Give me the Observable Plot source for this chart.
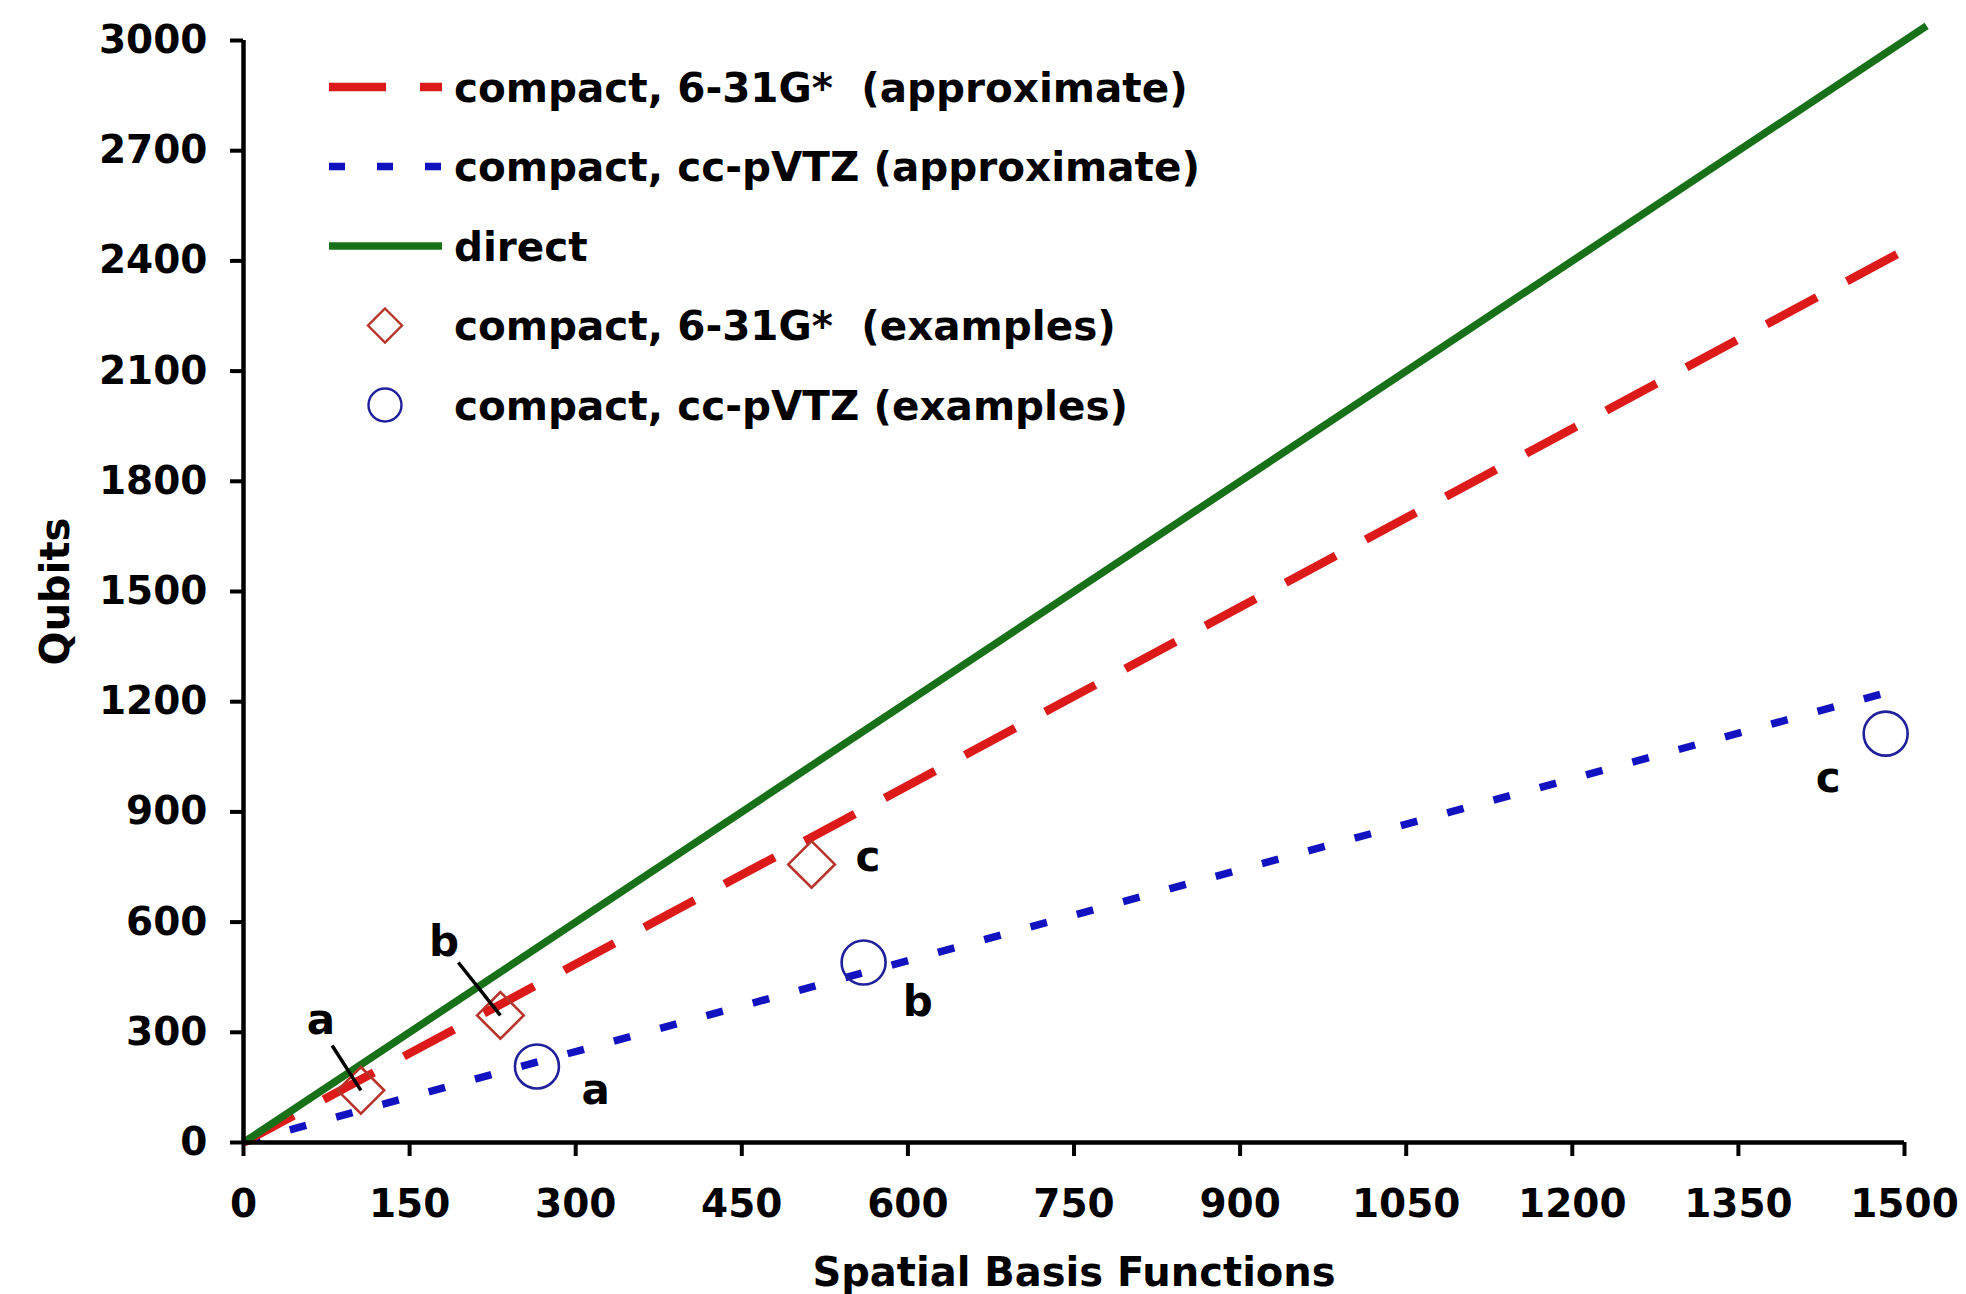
<!DOCTYPE html>
<html>
<head>
<meta charset="utf-8">
<script src="https://cdn.jsdelivr.net/npm/d3@7"></script>
<script src="https://cdn.jsdelivr.net/npm/@observablehq/plot@0.6"></script>
<style>
  body { margin: 0; background: #fff; }
  #chart svg { font-family: "DejaVu Sans", Verdana, sans-serif; font-weight: bold; }
</style>
</head>
<body>
<div id="chart"></div>
<script>
// ---- data ----
const xTicks = [0, 150, 300, 450, 600, 750, 900, 1050, 1200, 1350, 1500];
const yTicks = [0, 300, 600, 900, 1200, 1500, 1800, 2100, 2400, 2700, 3000];

// approximate / direct lines (spatial basis functions -> qubits)
const directN = [0, 1520];
const directQ = [0, 3040];
const approx631N = [0, 1503];
const approx631Q = [0, 2434];
const approxTZN = [0, 1490];
const approxTZQ = [0, 1230];

// examples
const ex631N = [106, 232, 513];
const ex631Q = [142, 346, 757];
const exTZN = [265, 560, 1483];
const exTZQ = [207, 490, 1113];
const exLabels = ["a", "b", "c"];

// label positions (data units)
const lab631N = [70, 181, 564];
const lab631Q = [332, 544, 776];
const labTZN = [318, 609, 1431];
const labTZQ = [142, 381, 991];
// leader lines for 6-31G* a, b
const leaderFromN = [80, 194];
const leaderFromQ = [264, 490];
const leaderToN = [106, 232];
const leaderToQ = [142, 346];

const legendItems = [
  "compact, 6-31G*  (approximate)",
  "compact, cc-pVTZ (approximate)",
  "direct",
  "compact, 6-31G*  (examples)",
  "compact, cc-pVTZ (examples)"
];

// ---- styles ----
const RED = "#dc1a1a", RED_MK = "#b8342a", BLUE = "#1212c0", BLUE_MK = "#20209a", GREEN = "#187018";
const FS = 39;

// ---- build tables ----
const directData = directN.map((n, i) => ({n, q: directQ[i]}));
const a631Data = approx631N.map((n, i) => ({n, q: approx631Q[i]}));
const aTZData = approxTZN.map((n, i) => ({n, q: approxTZQ[i]}));
const e631 = ex631N.map((n, i) => ({n, q: ex631Q[i], l: exLabels[i], ln: lab631N[i], lq: lab631Q[i]}));
const eTZ = exTZN.map((n, i) => ({n, q: exTZQ[i], l: exLabels[i], ln: labTZN[i], lq: labTZQ[i]}));
const leaders = leaderFromN.map((n, i) => ({n1: n, q1: leaderFromQ[i], n2: leaderToN[i], q2: leaderToQ[i]}));

function legendMark() {
  const g = d3.create("svg:g");
  const y0 = 87, gap = 79.5, xl1 = 329, xl2 = 442, xm = 385, xt = 454;
  const kinds = [
    {type: "line", color: RED, dash: "57,34", w: 8.5},
    {type: "line", color: BLUE, dash: "16,32", w: 7.5},
    {type: "line", color: GREEN, dash: null, w: 7.5},
    {type: "diamond", color: RED_MK},
    {type: "circle", color: BLUE_MK}
  ];
  legendItems.forEach((t, i) => {
    const y = y0 + i * gap, k = kinds[i];
    if (k.type === "line") {
      const ln = g.append("line").attr("x1", xl1).attr("x2", xl2).attr("y1", y).attr("y2", y)
        .attr("stroke", k.color).attr("stroke-width", k.w);
      if (k.dash) ln.attr("stroke-dasharray", k.dash);
    } else if (k.type === "diamond") {
      const r = 17;
      g.append("path").attr("d", `M${xm},${y - r}L${xm + r},${y}L${xm},${y + r}L${xm - r},${y}Z`)
        .attr("fill", "none").attr("stroke", k.color).attr("stroke-width", 2.4);
    } else {
      g.append("circle").attr("cx", xm).attr("cy", y).attr("r", 16.5)
        .attr("fill", "none").attr("stroke", k.color).attr("stroke-width", 2.4);
    }
    g.append("text").attr("x", xt).attr("y", y).attr("dy", "0.36em")
      .attr("text-anchor", "start")
      .attr("font-size", 40.5).attr("font-weight", "bold").attr("fill", "#000")
      .style("white-space", "pre").text(t);
  });
  return g.node();
}

const chart = Plot.plot({
  width: 1966,
  height: 1294,
  marginLeft: 243,
  marginRight: 62,
  marginTop: 40,
  marginBottom: 152,
  style: {fontFamily: "'DejaVu Sans', Verdana, sans-serif", fontWeight: "bold", fontSize: FS + "px", color: "#000", background: "#fff"},
  x: {domain: [0, 1500]},
  y: {domain: [0, 3000]},
  marks: [
    Plot.axisX({ticks: xTicks, tickSize: 14, tickPadding: 33, strokeWidth: 4, fontSize: FS, label: null, tickFormat: d => String(d)}),
    Plot.axisY({ticks: yTicks, tickSize: 13, tickPadding: 23, strokeWidth: 4, fontSize: FS, label: null, tickFormat: d => String(d)}),
    Plot.line(aTZData, {x: "n", y: "q", stroke: BLUE, strokeWidth: 7.5, strokeDasharray: "17,31", strokeLinecap: "butt"}),
    Plot.line(a631Data, {x: "n", y: "q", stroke: RED, strokeWidth: 8.5, strokeDasharray: "57,34", strokeLinecap: "butt"}),
    Plot.line(directData, {x: "n", y: "q", stroke: GREEN, strokeWidth: 7.5, strokeLinecap: "butt"}),
    Plot.ruleY([0], {strokeWidth: 4.5, stroke: "#000"}),
    Plot.ruleX([0], {strokeWidth: 4.5, stroke: "#000"}),
    Plot.dot(e631, {x: "n", y: "q", symbol: "diamond2", r: 21, stroke: RED_MK, strokeWidth: 2.6, fill: "none"}),
    Plot.dot(eTZ, {x: "n", y: "q", symbol: "circle", r: 22, stroke: BLUE_MK, strokeWidth: 2.6, fill: "none"}),
    Plot.link(leaders, {x1: "n1", y1: "q1", x2: "n2", y2: "q2", stroke: "#000", strokeWidth: 3.5}),
    Plot.text(e631, {x: "ln", y: "lq", text: "l", fontSize: FS + 3, fontWeight: "bold", fill: "#000"}),
    Plot.text(eTZ, {x: "ln", y: "lq", text: "l", fontSize: FS + 3, fontWeight: "bold", fill: "#000"}),
    Plot.text(["Qubits"], {frameAnchor: "left", dx: -187, rotate: -90, textAnchor: "middle", lineAnchor: "middle", fontSize: 40, fontWeight: "bold", fill: "#000"}),
    Plot.text(["Spatial Basis Functions"], {frameAnchor: "bottom", dy: 131, textAnchor: "middle", lineAnchor: "middle", fontSize: 40, fontWeight: "bold", fill: "#000"}),
    legendMark
  ]
});
document.getElementById("chart").appendChild(chart);
</script>
</body>
</html>
